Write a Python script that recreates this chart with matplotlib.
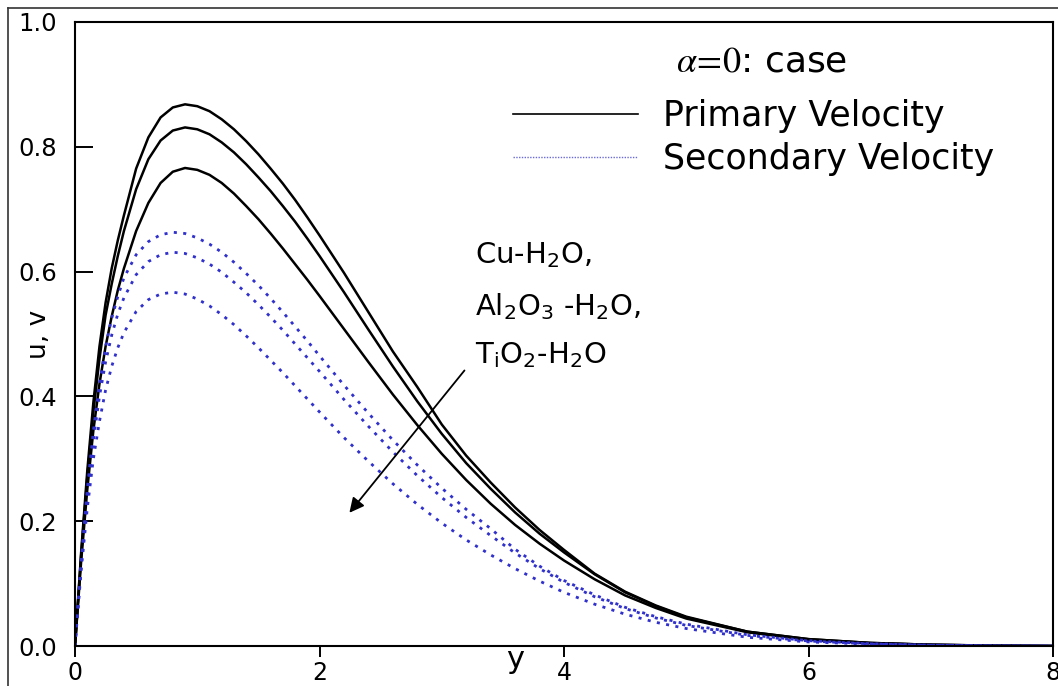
import matplotlib
matplotlib.use("Agg")
import matplotlib.pyplot as plt
from matplotlib.lines import Line2D
from matplotlib.font_manager import FontProperties


# Distance y (shared by every curve)
y_values = [0, 0.05, 0.1, 0.15, 0.2, 0.25, 0.3, 0.35, 0.4,
            0.5, 0.6, 0.7, 0.8, 0.9, 1.0,
            1.1, 1.2, 1.3, 1.4, 1.5, 1.6, 1.7, 1.8, 1.9, 2.0,
            2.2, 2.4, 2.6, 2.8, 3.0,
            3.2, 3.4, 3.6, 3.8, 4.0,
            4.25, 4.5, 4.75, 5.0,
            5.5, 6.0, 6.5, 7.0, 7.5, 8.0]

# Primary velocity u (Cu-H2O, Al2O3-H2O, TiO2-H2O)
primary_cu = [0, 0.15, 0.28, 0.39, 0.48, 0.55, 0.605, 0.65, 0.69,
              0.765, 0.815, 0.847, 0.863, 0.868, 0.865,
              0.857, 0.844, 0.828, 0.809, 0.788, 0.765, 0.741, 0.715, 0.687, 0.658,
              0.598, 0.535, 0.472, 0.415, 0.355,
              0.305, 0.262, 0.222, 0.186, 0.154,
              0.116, 0.087, 0.065, 0.047,
              0.023, 0.011, 0.005, 0.002, 0.0007, 0]
primary_al = [0, 0.145, 0.27, 0.375, 0.46, 0.53, 0.58, 0.625, 0.665,
              0.732, 0.78, 0.81, 0.826, 0.831, 0.828,
              0.82, 0.807, 0.791, 0.772, 0.751, 0.729, 0.705, 0.68, 0.653, 0.625,
              0.567, 0.507, 0.448, 0.392, 0.34,
              0.293, 0.252, 0.214, 0.18, 0.15,
              0.115, 0.086, 0.064, 0.046,
              0.023, 0.011, 0.005, 0.002, 0.0007, 0]
primary_ti = [0, 0.135, 0.25, 0.345, 0.42, 0.48, 0.528, 0.57, 0.605,
              0.665, 0.71, 0.742, 0.76, 0.766, 0.763,
              0.755, 0.742, 0.725, 0.705, 0.684, 0.661, 0.637, 0.612, 0.587, 0.561,
              0.508, 0.455, 0.403, 0.354, 0.308,
              0.266, 0.228, 0.194, 0.164, 0.137,
              0.107, 0.081, 0.061, 0.044,
              0.022, 0.01, 0.0045, 0.002, 0.0006, 0]

# Secondary velocity v
secondary_cu = [0, 0.135, 0.25, 0.345, 0.42, 0.48, 0.525, 0.56, 0.59,
                0.627, 0.648, 0.659, 0.663, 0.661, 0.654,
                0.644, 0.631, 0.615, 0.597, 0.578, 0.557, 0.535, 0.512, 0.489, 0.465,
                0.418, 0.373, 0.33, 0.29, 0.253,
                0.219, 0.188, 0.155, 0.128, 0.105,
                0.082, 0.062, 0.047, 0.035,
                0.018, 0.0085, 0.0038, 0.0014, 0.0005, 0]
secondary_al = [0, 0.13, 0.24, 0.33, 0.40, 0.455, 0.498, 0.532, 0.558,
                0.595, 0.616, 0.627, 0.631, 0.629, 0.622,
                0.612, 0.599, 0.583, 0.566, 0.547, 0.527, 0.506, 0.484, 0.462, 0.44,
                0.395, 0.352, 0.311, 0.273, 0.238,
                0.206, 0.177, 0.149, 0.124, 0.102,
                0.079, 0.06, 0.045, 0.033,
                0.017, 0.008, 0.0035, 0.0013, 0.0004, 0]
secondary_ti = [0, 0.12, 0.22, 0.30, 0.36, 0.41, 0.448, 0.478, 0.502,
                0.536, 0.555, 0.564, 0.567, 0.564, 0.556,
                0.545, 0.531, 0.515, 0.497, 0.478, 0.458, 0.438, 0.417, 0.396, 0.375,
                0.334, 0.296, 0.26, 0.227, 0.197,
                0.17, 0.146, 0.124, 0.104, 0.086,
                0.067, 0.051, 0.038, 0.028,
                0.014, 0.0065, 0.003, 0.0011, 0.0003, 0]

x_ticks = [0, 2, 4, 6, 8]
y_ticks = [0.0, 0.2, 0.4, 0.6, 0.8, 1.0]
nanofluid_labels = [r'Cu-H$_2$O,',
                    r'Al$_2$O$_3$ -H$_2$O,',
                    r'T$_{\mathregular{i}}$O$_2$-H$_2$O']

blue = '#3030cc'

figure_1 = plt.figure(figsize=(10.58, 6.86), dpi=100)
axis_1 = figure_1.add_axes([0.0709, 0.0583, 0.9244, 0.9097])

# Primary Velocity
for u in [primary_cu, primary_al, primary_ti]:
    axis_1.plot(y_values, u, c='black', lw=1.8)

# Secondary Velocity
for v in [secondary_cu, secondary_al, secondary_ti]:
    axis_1.plot(y_values, v, c=blue, lw=2.0, linestyle=(0, (1.1, 2.3)))

axis_1.set_xlim(0, 8)
axis_1.set_ylim(0, 1.0)
axis_1.set_xticks(x_ticks)
axis_1.set_yticks(y_ticks)
axis_1.set_yticklabels([f"{t:.1f}" for t in y_ticks])
axis_1.tick_params(axis='y', direction='in', length=13, width=1.4, pad=13, labelsize=17.5)
axis_1.tick_params(axis='x', direction='out', length=8, width=1.4, pad=2.5, labelsize=17)
for spine in axis_1.spines.values():
    spine.set_linewidth(1.5)

axis_1.set_ylabel('u, v', fontsize=19)
axis_1.yaxis.set_label_coords(-0.024, 0.5)
axis_1.set_xlabel('y', fontsize=22)
axis_1.xaxis.set_label_coords(0.45, 0.002)

# Case title and legend
title_font = FontProperties(size=26, math_fontfamily='stix')
axis_1.text(0.702, 0.936, r'$\alpha\!=\!0$: case', fontproperties=title_font,
            ha='center', va='center', transform=axis_1.transAxes)
handles = [Line2D([], [], c='black', lw=1.2),
           Line2D([], [], c='#6a6ad8', lw=1.0, linestyle=(0, (1, 1)))]
axis_1.legend(handles, ['Primary Velocity', 'Secondary Velocity'], fontsize=25, frameon=False,
              loc='upper left', bbox_to_anchor=(0.448, 0.877), borderpad=0, borderaxespad=0,
              handlelength=3.6, handletextpad=0.72, labelspacing=0.28)

# Nanofluid labels and arrow
text_rows = [0.613, 0.53, 0.453]
for label, row in zip(nanofluid_labels, text_rows):
    axis_1.text(3.27, row, label, fontsize=21, ha='left', va='baseline')
axis_1.annotate('', xy=(2.23, 0.21), xytext=(3.2, 0.445),
                arrowprops=dict(arrowstyle='-|>', color='black', lw=1.3, mutation_scale=22))

# Outer frame of the original figure (left and top edges)
figure_1.add_artist(Line2D([0.0076, 0.0076], [0, 0.988], transform=figure_1.transFigure, c='#333333', lw=1.2))
figure_1.add_artist(Line2D([0.0076, 1.0], [0.988, 0.988], transform=figure_1.transFigure, c='#333333', lw=1.2))

plt.savefig('out.png', dpi=100)
